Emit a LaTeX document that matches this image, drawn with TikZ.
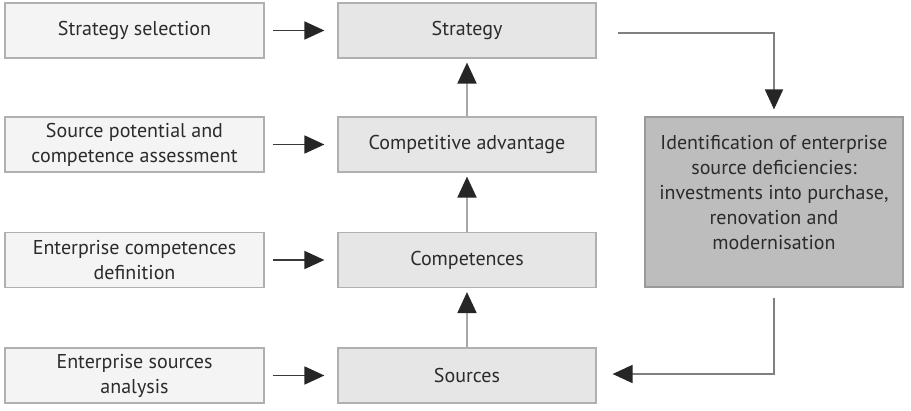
\documentclass[tikz,border=0pt]{standalone}
\usepackage{fontspec}
\setmainfont{PT Sans}
\usetikzlibrary{arrows.meta}
\definecolor{txt}{HTML}{2B2B2B}
\definecolor{lfill}{HTML}{F4F4F4}
\definecolor{mfill}{HTML}{E6E6E6}
\definecolor{rfill}{HTML}{BDBDBD}
\definecolor{bord}{HTML}{B0B0B0}
\definecolor{rbord}{HTML}{9A9A9A}
\definecolor{hline}{HTML}{3A3A3A}
\definecolor{vline}{HTML}{A8A8A8}
\definecolor{cline}{HTML}{808080}
\definecolor{tip}{HTML}{262626}
\tikzset{
  base/.style={draw=bord, line width=1.2pt, align=center, text=txt,
    font=\fontsize{20}{25}\selectfont, inner sep=2pt},
  lbox/.style={base, fill=lfill, minimum width=259pt, minimum height=55pt},
  mbox/.style={base, fill=mfill, minimum width=258pt, minimum height=55pt},
  rbox/.style={base, draw=rbord, fill=rfill, minimum width=258pt, minimum height=170pt},
  harrow/.style={draw=hline, line width=1.8pt, -{Triangle[length=20pt,width=18pt,color=tip,fill=tip]}},
  varrow/.style={draw=vline, line width=2pt, -{Triangle[length=21pt,width=19pt,color=tip,fill=tip]}},
  carrow/.style={draw=cline, line width=1.8pt, -{Triangle[length=20pt,width=18pt,color=tip,fill=tip]}}
}
\begin{document}
\begin{tikzpicture}[x=1pt,y=-1pt]
\useasboundingbox[fill=white] (0,0) rectangle (911,410);
\node[lbox] (l1) at (134.5,30.5) {Strategy selection};
\node[lbox] (l2) at (134.5,144.5) {Source potential and\\competence assessment};
\node[lbox] (l3) at (134.5,260) {Enterprise competences\\definition};
\node[lbox] (l4) at (134.5,375.5) {Enterprise sources\\analysis};
\node[mbox] (m1) at (467,30.5) {Strategy};
\node[mbox] (m2) at (467,144.5) {Competitive advantage};
\node[mbox] (m3) at (467,260) {Competences};
\node[mbox] (m4) at (467,375.5) {Sources};
\node[rbox] (r) at (774,202) {Identification of enterprise\\source deficiencies:\\investments into purchase,\\renovation and\\modernisation\\[-5pt]};
\foreach \i in {1,2,3,4}
  \draw[harrow, shorten <=8pt, shorten >=13pt] (l\i.east) -- (m\i.west);
\draw[varrow, shorten >=4pt] (m2.north) -- (m1.south);
\draw[varrow, shorten >=4pt] (m3.north) -- (m2.south);
\draw[varrow, shorten >=4pt] (m4.north) -- (m3.south);
\draw[carrow, shorten <=21pt, shorten >=7pt] ([yshift=-2.5pt]m1.east) -| (r.north);
\draw[carrow, shorten <=10pt, shorten >=16pt] (r.south) |- ([yshift=1.5pt]m4.east);
\end{tikzpicture}
\end{document}
